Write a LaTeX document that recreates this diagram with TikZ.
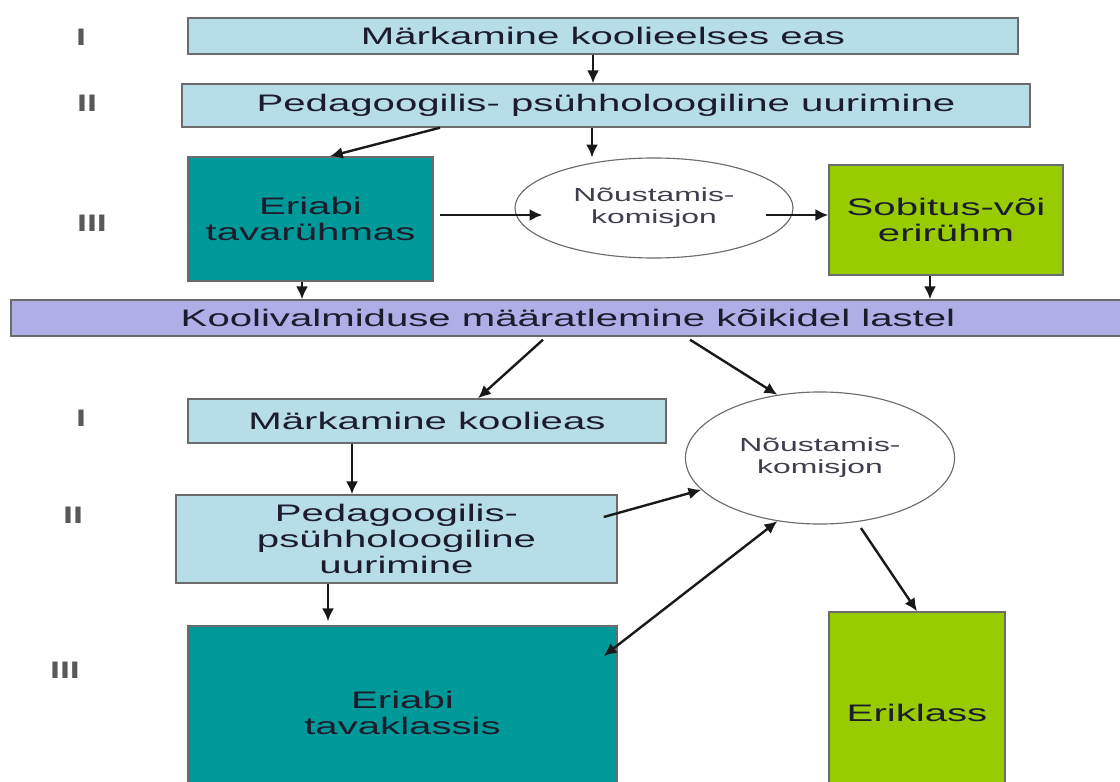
\documentclass[tikz,border=0pt]{standalone}
\usepackage{fontspec}
\newfontfamily\widesans[FakeStretch=1.68]{Liberation Sans}
\newfontfamily\widesansbold[FakeStretch=1.5]{Liberation Sans Bold}
\usetikzlibrary{arrows.meta,shapes.geometric}

\definecolor{paleblue}{HTML}{B7DEE8}
\definecolor{tealbox}{HTML}{009999}
\definecolor{limebox}{HTML}{99CC00}
\definecolor{lilacbar}{HTML}{B0AEE6}
\definecolor{edgegray}{HTML}{6B6B6B}
\definecolor{inkdark}{HTML}{1C1C2C}

\tikzset{
	stagebox/.style={draw=edgegray, line width=1pt, inner sep=0pt, align=center,
		font=\widesans\fontsize{17}{18.5}\selectfont, text=inkdark},
	counsel/.style={ellipse, draw=edgegray, line width=0.8pt, fill=white, inner sep=0pt, align=center,
		font=\widesans\fontsize{13.5}{15.6}\selectfont, text=inkdark!85},
	levelmark/.style={font=\widesansbold\fontsize{17}{18}\selectfont, text=black!65},
	flow/.style={-{Latex[length=3.2mm,width=3mm]}, line width=1.7pt, black!90},
	twoway/.style={{Latex[length=3.2mm,width=3mm]}-{Latex[length=3.2mm,width=3mm]}, line width=1.7pt, black!90}
}

\begin{document}
\begin{tikzpicture}[x=0.025cm, y=-0.025cm]
			%%%%% START %%%%%
			
			\useasboundingbox (0,0) rectangle (1120,782);
			\fill[white] (0,0) rectangle (1120,782);
			\clip (0,0) rectangle (1120,782);
			
			% levels
			\node[levelmark] (lvA1) at (81,37) {I};
			\node[levelmark] (lvA2) at (87,103) {II};
			\node[levelmark] (lvA3) at (92,223) {III};
			\node[levelmark] (lvB1) at (81,418) {I};
			\node[levelmark] (lvB2) at (73,515) {II};
			\node[levelmark] (lvB3) at (65,670) {III};
			
			% preschool part
			\node[stagebox, fill=paleblue, minimum width=20.75cm, minimum height=0.9cm] (markA) at (603,36) {Märkamine koolieelses eas};
			\node[stagebox, fill=paleblue, minimum width=21.2cm, minimum height=1.075cm] (pedA) at (606,105.5) {Pedagoogilis- psühholoogiline uurimine};
			\node[stagebox, fill=tealbox, minimum width=6.125cm, minimum height=3.1cm] (helpA) at (310.5,219) {Eriabi\\tavarühmas};
			\node[counsel, minimum width=6.95cm, minimum height=2.5cm] (ellA) at (654,208) {Nõustamis-\\komisjon};
			\node[stagebox, fill=limebox, minimum width=5.85cm, minimum height=2.75cm] (groupA) at (946,220) {Sobitus-või\\erirühm};
			
			\node[stagebox, fill=lilacbar, minimum width=27.85cm, minimum height=0.9cm] (ready) at (568,318) {Koolivalmiduse määratlemine kõikidel lastel};
			
			% school part
			\node[stagebox, fill=paleblue, minimum width=11.95cm, minimum height=1.1cm] (markB) at (427,421) {Märkamine koolieas};
			\node[stagebox, fill=paleblue, minimum width=11.025cm, minimum height=2.2cm] (pedB) at (396.5,539) {Pedagoogilis-\\psühholoogiline\\uurimine};
			\node[stagebox, fill=tealbox, minimum width=10.725cm, minimum height=4.35cm] (helpB) at (402.5,713) {Eriabi\\tavaklassis};
			\node[counsel, minimum width=6.725cm, minimum height=3.3cm] (ellB) at (820,458) {Nõustamis-\\komisjon};
			\node[stagebox, fill=limebox, minimum width=4.4cm, minimum height=5.05cm] (classB) at (917,713) {Eriklass};
			
			% arrows, preschool
			\draw[flow] ([shift={(-10,0)}]markA.south) -- ([shift={(-10,0)}]markA.south |- pedA.north);
			\draw[flow] ([shift={(-166,0)}]pedA.south) -- ([shift={(19.5,0)}]helpA.north);
			\draw[flow] ([shift={(-14,0)}]pedA.south) -- ([shift={(-14,0)}]pedA.south |- ellA.north);
			\draw[flow] ([shift={(6,-4)}]helpA.east) -- ([shift={(28,7)}]ellA.west);
			\draw[flow] ([shift={(-28,7)}]ellA.east) -- ([shift={(0,-5)}]groupA.west);
			\draw[flow] ([shift={(-8.5,0)}]helpA.south) -- ([shift={(-8.5,0)}]helpA.south |- ready.north);
			\draw[flow] ([shift={(-16,0)}]groupA.south) -- ([shift={(-16,0)}]groupA.south |- ready.north);
			
			% arrows, school
			\draw[flow] ([shift={(-25,3)}]ready.south) -- ([shift={(51,0)}]markB.north);
			\draw[flow] ([shift={(122,3)}]ready.south) -- (ellB.124);
			\draw[flow] ([shift={(-75,0)}]markB.south) -- ([shift={(-75,0)}]markB.south |- pedB.north);
			\draw[flow] ([shift={(-14,-22)}]pedB.east) -- (ellB.195);
			\draw[flow] ([shift={(-68.5,0)}]pedB.south) -- ([shift={(-68.5,-4)}]pedB.south |- helpB.north);
			\draw[twoway] ([shift={(-14,-57)}]helpB.east) -- (ellB.236);
			\draw[flow] ([shift={(4,6)}]ellB.300) -- (classB.north);
			
			%%%%% END %%%%%
		\end{tikzpicture}
\end{document}
